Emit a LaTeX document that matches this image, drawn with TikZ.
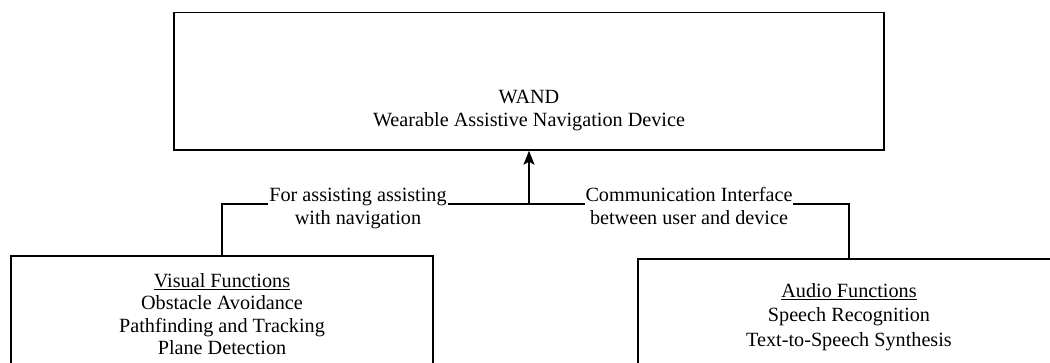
\documentclass[tikz,border=0pt]{standalone}
\usepackage{fontspec}
\setmainfont{Liberation Serif}
\newfontfamily\diagfont{Liberation Serif}
\usetikzlibrary{arrows.meta}
\begin{document}
\begin{tikzpicture}[x=1pt,y=-1pt,
  box/.style={draw=black, line width=1.5pt, rectangle, inner sep=0pt, align=center},
  conn/.style={draw=black, line width=1.4pt},
  lbl/.style={fill=white, inner xsep=1pt, inner ysep=0pt, align=center},
  every node/.append style={font=\diagfont\fontsize{20.2}{23.5}\selectfont}]
  \useasboundingbox (0,0) rectangle (1050,362);
  \clip (0,0) rectangle (1050,362);

  % main device box
  \node[box, minimum width=710pt, minimum height=137.5pt] (wand) at (529,81.25) {};
  \node[align=center, inner sep=0pt] (wandtext) at (529,110.5)
    {WAND\\Wearable Assistive Navigation Device};

  % function boxes
  \node[box, minimum width=422pt, minimum height=116pt, font=\diagfont\fontsize{20.2}{22.5}\selectfont]
    (visual) at (222,314)
    {\underline{Visual Functions}\\Obstacle Avoidance\\Pathfinding and Tracking\\Plane Detection};
  \node[box, minimum width=422pt, minimum height=116pt, font=\diagfont\fontsize{20.2}{24.5}\selectfont]
    (audio) at (849,317)
    {\underline{Audio Functions}\\Speech Recognition\\Text-to-Speech Synthesis};

  % connectors
  \coordinate (j) at (529,204);
  \draw[conn] (visual.north) |- (j) -| (audio.north);
  \draw[conn, -{Stealth[length=14pt,width=11pt,inset=3pt]}] (j) -- (wand.south);

  % edge labels
  \node[lbl] (lvis) at (358,208.5) {For assisting assisting\\with navigation};
  \node[lbl] (laud) at (689,206) {Communication Interface\\between user and device};
\end{tikzpicture}
\end{document}
